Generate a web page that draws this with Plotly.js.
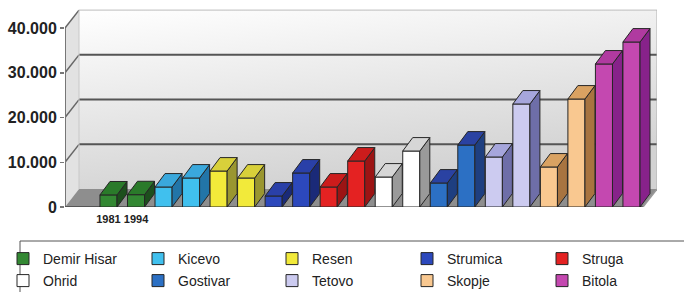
<!DOCTYPE html>
<html><head><meta charset="utf-8">
<script src="https://cdn.plot.ly/plotly-3.0.1.min.js"></script>
<style>html,body{margin:0;padding:0;background:#fff;}#chart{width:684px;height:292px;}</style>
</head><body><div id="chart"></div>
<script>
// ---- data ----
const cities = ['Demir Hisar','Kicevo','Resen','Strumica','Struga','Ohrid','Gostivar','Tetovo','Skopje','Bitola'];
const years = ['1981','1994'];
const v1981 = [2700,4470,8040,2460,4470,6700,5360,11170,8940,31960];
const v1994 = [2750,6480,6480,7600,10280,12510,13850,23020,24130,36870];
const yTickVals = [0,10000,20000,30000,40000];
const frontColors = ['#338833','#40c0ee','#f2ea3a','#2c48bc','#e42222','#ffffff','#2c70c4','#cccbf0','#f9c890','#c448b0'];
const topColors   = ['#2a7a2a','#3aa8dc','#d8d03a','#2a40a8','#cc1c1c','#d6d6d6','#2a42a2','#a6a6dc','#d9a262','#b03aa0'];
const sideColors  = ['#1d4f1d','#2275a8','#9a9630','#1a2a78','#9c1414','#9a9a9a','#1e3f80','#6e6ea8','#a87440','#87228a'];
const legendRow = [0,0,0,0,0,1,1,1,1,1];
const legendCol = [0,1,2,3,4,0,1,2,3,4];

// ---- geometry (styling) ----
const BW = 0.62, DX = 0.363, DY = 3000;        // bar width / depth
const XL = -1.58, XR = 19.418, XSPAN = 21.507; // floor extent
const WDX = 0.509, WDY = 4000, YTOP = 40000;   // wall depth
const PL = 65, PW = 592, PB = 207, PH = 199;   // plot pixels
const colPx = [25,160,294,429,564];
const rowPx = [243,265];

const traces = [];
const faceTraces = [];
cities.forEach((c, i) => {
  const xs = [2*i, 2*i+1];
  const vs = [v1981[i], v1994[i]];
  traces.push({
    type:'bar', x:xs, y:vs, width:BW, name:c,
    marker:{color:frontColors[i], line:{color:'#262626', width:1}},
    legend: i===0 ? 'legend' : 'legend'+(i+1),
    hoverinfo:'skip'
  });
  const sx=[], sy=[], tx=[], ty=[];
  xs.forEach((x, k) => {
    const v = vs[k], r = x + BW/2, l = x - BW/2;
    sx.push(r, r+DX, r+DX, r, r, null); sy.push(0, DY, v+DY, v, 0, null);
    tx.push(l, l+DX, r+DX, r, l, null); ty.push(v, v+DY, v+DY, v, v, null);
  });
  faceTraces.push({type:'scatter', mode:'lines', x:sx, y:sy, fill:'toself', fillcolor:sideColors[i],
    line:{color:'#262626', width:1}, showlegend:false, hoverinfo:'skip'});
  faceTraces.push({type:'scatter', mode:'lines', x:tx, y:ty, fill:'toself', fillcolor:topColors[i],
    line:{color:'#262626', width:1}, showlegend:false, hoverinfo:'skip'});
});

const shapes = [];
const L = (x0,y0,x1,y1,color,w) => shapes.push({type:'line', xref:'x', yref:'y', x0, y0, x1, y1, line:{color, width:w}, layer:'between'});
// left wall
shapes.push({type:'path', xref:'x', yref:'y', layer:'below',
  path:`M${XL},0 L${XL},${YTOP} L${XL+WDX},${YTOP+WDY} L${XL+WDX},${WDY} Z`, fillcolor:'#e2e2e2', line:{width:0}});
// floor
shapes.push({type:'path', xref:'x', yref:'y', layer:'below',
  path:`M${XL},0 L${XR},0 L${XR+WDX},${WDY} L${XL+WDX},${WDY} Z`, fillcolor:'#8e8e8e', line:{width:0}});
yTickVals.slice(1).forEach(v => {
  if (v < YTOP) L(XL+WDX, v+WDY, XR+WDX, v+WDY, '#555', 2);
  L(XL, v, XL+WDX, v+WDY, '#666', 1.5);
});
L(XL+WDX, YTOP+WDY, XR+WDX, YTOP+WDY, '#bdbdbd', 1);
L(XR+WDX, WDY, XR+WDX, YTOP+WDY, '#b0b0b0', 1);
L(XL+WDX, WDY, XL+WDX, YTOP+WDY, '#c8c8c8', 1);
L(XL, 0, XL, YTOP, '#777', 2);
L(XL, 0, XR, 0, '#555', 2);
L(XR, 0, XR+WDX, WDY, '#999', 1.5);
// legend frame
shapes.push({type:'rect', xref:'paper', yref:'paper', x0:(20-PL)/PW, x1:(700-PL)/PW,
  y0:(PB-241)/PH, y1:(PB-310)/PH, line:{color:'#555', width:1}, fillcolor:'rgba(0,0,0,0)'});

const svg = '<svg xmlns="http://www.w3.org/2000/svg" width="100" height="100" viewBox="0 0 100 100" preserveAspectRatio="none"><defs><linearGradient id="g" x1="0" y1="0" x2="0.35" y2="1"><stop offset="0" stop-color="#ffffff"/><stop offset="0.45" stop-color="#ebebeb"/><stop offset="1" stop-color="#d2d2d2"/></linearGradient></defs><rect width="100" height="100" fill="url(#g)"/></svg>';

const font = {family:'Liberation Sans, Arial, sans-serif', color:'#222'};
const layout = {
  width:684, height:292,
  margin:{l:PL, r:684-PL-PW, t:PB-PH, b:292-PB, autoexpand:false},
  paper_bgcolor:'#ffffff', plot_bgcolor:'rgba(0,0,0,0)',
  barmode:'overlay', separators:',.', hovermode:false,
  xaxis:{range:[XL, XL+XSPAN], showgrid:false, zeroline:false, showline:false,
    tickmode:'array', tickvals:[0,1], ticktext:years, ticks:'outside', ticklen:2, tickcolor:'rgba(0,0,0,0)',
    tickangle:0, tickfont:Object.assign({}, font, {size:11, weight:'bold'})},
  yaxis:{range:[0, PH/4.475*1000], tickmode:'array', tickvals:yTickVals, tickformat:',d',
    showgrid:false, zeroline:false, showline:false, ticks:'outside', ticklen:4, tickwidth:1.5, tickcolor:'#777',
    tickfont:Object.assign({}, font, {size:16, weight:'bold'})},
  shapes,
  images:[{source:'data:image/svg+xml;charset=utf-8,'+encodeURIComponent(svg), xref:'x', yref:'y',
    x:XL+WDX, y:YTOP+WDY, sizex:XR-XL, sizey:YTOP, xanchor:'left', yanchor:'top', sizing:'stretch', layer:'below'}]
};
cities.forEach((c, i) => {
  const key = i===0 ? 'legend' : 'legend'+(i+1);
  layout[key] = {x:(colPx[legendCol[i]] - 22 - PL)/PW, y:(PB - rowPx[legendRow[i]])/PH,
    xanchor:'left', yanchor:'top', orientation:'h', bgcolor:'rgba(0,0,0,0)', borderwidth:0,
    font:Object.assign({}, font, {size:14})};
});

Plotly.newPlot('chart', traces.concat(faceTraces), layout, {staticPlot:true, displayModeBar:false});
</script></body></html>
